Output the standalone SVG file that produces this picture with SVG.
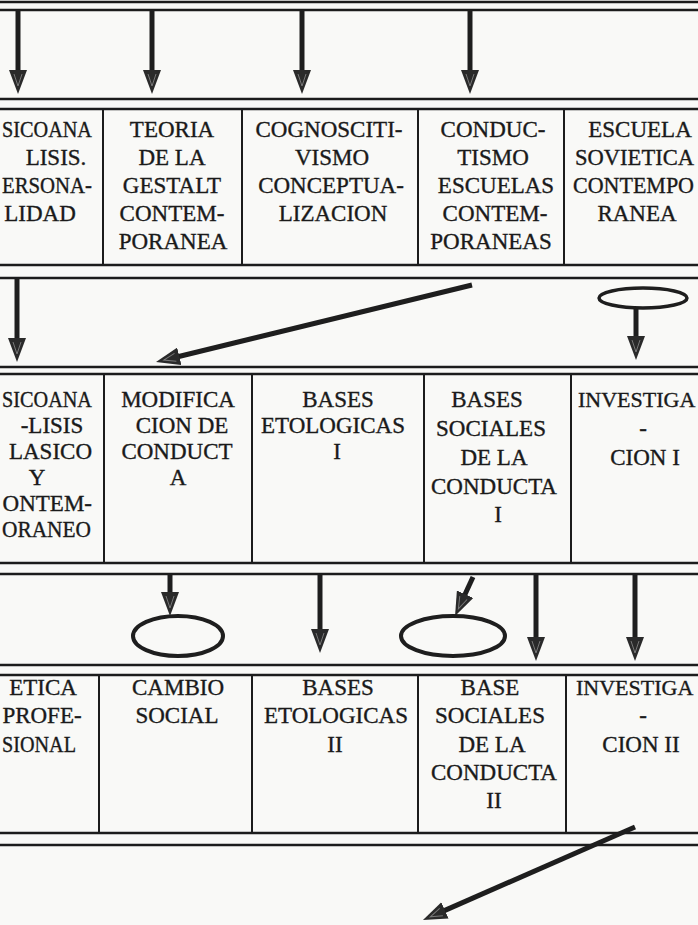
<svg xmlns="http://www.w3.org/2000/svg" width="698" height="925" viewBox="0 0 698 925">
<style>
.bg{fill:#f9f9f7}
.hl{stroke:#1c1c1c;stroke-width:2.6;fill:none}
.vl{stroke:#1c1c1c;stroke-width:2;fill:none}
.t{font-family:"Liberation Serif","Times New Roman",serif;font-size:23px;fill:#1a1a1a;stroke:#1a1a1a;stroke-width:0.35;text-anchor:middle}
.e{text-anchor:end}
.s{text-anchor:start}
.n{font-size:22px}
.ar{stroke:#1e1e1e;stroke-width:5;fill:none;marker-end:url(#head)}
.ov{stroke:#1e1e1e;stroke-width:4;fill:none}
</style>
<defs>
<marker id="head" markerUnits="userSpaceOnUse" markerWidth="24" markerHeight="18" refX="10" refY="9" orient="auto" viewBox="0 0 24 18">
<path d="M0,0 L24,9 L0,18 Z" fill="#2a2a2a"/>
<path d="M4,5 L16,9 L4,13" fill="none" stroke="#777" stroke-width="1"/>
</marker>
</defs>
<rect class="bg" x="0" y="0" width="698" height="925"/>
<g id="frame">
<line class="hl" x1="0" y1="2" x2="698" y2="2"/>
<line class="hl" x1="0" y1="10" x2="698" y2="10"/>
<line class="hl" x1="0" y1="99" x2="698" y2="99"/>
<line class="hl" x1="0" y1="109" x2="698" y2="109"/>
<line class="hl" x1="0" y1="265" x2="698" y2="265"/>
<line class="hl" x1="0" y1="278" x2="698" y2="278"/>
<line class="hl" x1="0" y1="367" x2="698" y2="367"/>
<line class="hl" x1="0" y1="374" x2="698" y2="374"/>
<line class="hl" x1="0" y1="563" x2="698" y2="563"/>
<line class="hl" x1="0" y1="574" x2="698" y2="574"/>
<line class="hl" x1="0" y1="665" x2="698" y2="665"/>
<line class="hl" x1="0" y1="675" x2="698" y2="675"/>
<line class="hl" x1="0" y1="833" x2="698" y2="833"/>
<line class="hl" x1="0" y1="845" x2="698" y2="845"/>
<line class="vl" x1="103" y1="109" x2="103" y2="265"/>
<line class="vl" x1="242" y1="109" x2="242" y2="265"/>
<line class="vl" x1="418" y1="109" x2="418" y2="265"/>
<line class="vl" x1="564" y1="109" x2="564" y2="265"/>
<line class="vl" x1="104" y1="374" x2="104" y2="563"/>
<line class="vl" x1="252" y1="374" x2="252" y2="563"/>
<line class="vl" x1="424" y1="374" x2="424" y2="563"/>
<line class="vl" x1="571" y1="374" x2="571" y2="563"/>
<line class="vl" x1="99" y1="675" x2="99" y2="833"/>
<line class="vl" x1="252" y1="675" x2="252" y2="833"/>
<line class="vl" x1="418" y1="675" x2="418" y2="833"/>
<line class="vl" x1="566" y1="675" x2="566" y2="833"/>
</g>
<g id="r1c1">
<text class="t s" x="2" y="137" textLength="90" lengthAdjust="spacingAndGlyphs">SICOANA</text>
<text class="t" x="56" y="165">LISIS.</text>
<text class="t s" x="2" y="193" textLength="90" lengthAdjust="spacingAndGlyphs">ERSONA-</text>
<text class="t" x="40" y="221">LIDAD</text>
</g>
<g id="r1c2">
<text class="t" x="172" y="137">TEORIA</text>
<text class="t" x="172" y="165">DE LA</text>
<text class="t" x="172" y="193">GESTALT</text>
<text class="t" x="172" y="221">CONTEM-</text>
<text class="t" x="173" y="249">PORANEA</text>
</g>
<g id="r1c3">
<text class="t" x="329" y="137">COGNOSCITI-</text>
<text class="t" x="332" y="165">VISMO</text>
<text class="t" x="331" y="193">CONCEPTUA-</text>
<text class="t" x="333" y="221">LIZACION</text>
</g>
<g id="r1c4">
<text class="t" x="493" y="137">CONDUC-</text>
<text class="t" x="493" y="165">TISMO</text>
<text class="t" x="496" y="193">ESCUELAS</text>
<text class="t" x="495" y="221">CONTEM-</text>
<text class="t" x="491" y="249">PORANEAS</text>
</g>
<g id="r1c5">
<text class="t" x="640" y="137">ESCUELA</text>
<text class="t s" x="575" y="165" textLength="119" lengthAdjust="spacingAndGlyphs">SOVIETICA</text>
<text class="t s" x="573" y="193" textLength="121" lengthAdjust="spacingAndGlyphs">CONTEMPO</text>
<text class="t" x="637" y="221">RANEA</text>
</g>
<g id="r2c1">
<text class="t s" x="2" y="407" textLength="90" lengthAdjust="spacingAndGlyphs">SICOANA</text>
<text class="t" x="52" y="433">-LISIS</text>
<text class="t e" x="92" y="459">LASICO</text>
<text class="t" x="37" y="485">Y</text>
<text class="t e" x="92" y="511">ONTEM-</text>
<text class="t s" x="2" y="537" textLength="89" lengthAdjust="spacingAndGlyphs">ORANEO</text>
</g>
<g id="r2c2">
<text class="t" x="178" y="407">MODIFICA</text>
<text class="t" x="182" y="433">CION  DE</text>
<text class="t" x="177" y="459">CONDUCT</text>
<text class="t" x="178" y="485">A</text>
</g>
<g id="r2c3">
<text class="t" x="338" y="407">BASES</text>
<text class="t" x="333" y="433">ETOLOGICAS</text>
<text class="t" x="337" y="459">I</text>
</g>
<g id="r2c4">
<text class="t" x="487" y="407">BASES</text>
<text class="t" x="491" y="436">SOCIALES</text>
<text class="t" x="494" y="465">DE LA</text>
<text class="t" x="494" y="494">CONDUCTA</text>
<text class="t" x="498" y="522">I</text>
</g>
<g id="r2c5">
<text class="t s n" x="578" y="407">INVESTIGA</text>
<text class="t" x="643" y="436">-</text>
<text class="t" x="645" y="465">CION  I</text>
</g>
<g id="r3c1">
<text class="t" x="43" y="695">ETICA</text>
<text class="t" x="42" y="723">PROFE-</text>
<text class="t s" x="2" y="752" textLength="74" lengthAdjust="spacingAndGlyphs">SIONAL</text>
</g>
<g id="r3c2">
<text class="t" x="178" y="695">CAMBIO</text>
<text class="t" x="177" y="723">SOCIAL</text>
</g>
<g id="r3c3">
<text class="t" x="338" y="695">BASES</text>
<text class="t" x="336" y="723">ETOLOGICAS</text>
<text class="t" x="335" y="752">II</text>
</g>
<g id="r3c4">
<text class="t" x="490" y="695">BASE</text>
<text class="t" x="490" y="723">SOCIALES</text>
<text class="t" x="492" y="752">DE LA</text>
<text class="t" x="494" y="780">CONDUCTA</text>
<text class="t" x="494" y="808">II</text>
</g>
<g id="r3c5">
<text class="t s n" x="576" y="695">INVESTIGA</text>
<text class="t" x="643" y="723">-</text>
<text class="t" x="641" y="752">CION  II</text>
</g>
<g id="connectors">
<line class="ar" x1="18" y1="10" x2="18" y2="80"/>
<line class="ar" x1="152" y1="10" x2="152" y2="80"/>
<line class="ar" x1="302" y1="10" x2="302" y2="80"/>
<line class="ar" x1="470" y1="10" x2="470" y2="80"/>
<line class="ar" x1="17" y1="278" x2="17" y2="348"/>
<line class="ar" x1="472" y1="285" x2="169.6" y2="358.7"/>
<ellipse class="ov" cx="643" cy="298" rx="44" ry="10" style="stroke-width:3.5"/>
<line class="ar" x1="636" y1="308" x2="636" y2="346"/>
<line class="ar" x1="170" y1="575" x2="170" y2="602"/>
<ellipse class="ov" cx="178" cy="636" rx="45" ry="20"/>
<line class="ar" x1="320" y1="575" x2="320" y2="639"/>
<line class="ar" x1="473" y1="577" x2="460.9" y2="603.3"/>
<ellipse class="ov" cx="453" cy="636" rx="52" ry="20"/>
<line class="ar" x1="536" y1="575" x2="536" y2="647"/>
<line class="ar" x1="635" y1="575" x2="635" y2="647"/>
<line class="ar" x1="635" y1="827" x2="435.8" y2="914.4"/>
</g>
</svg>
